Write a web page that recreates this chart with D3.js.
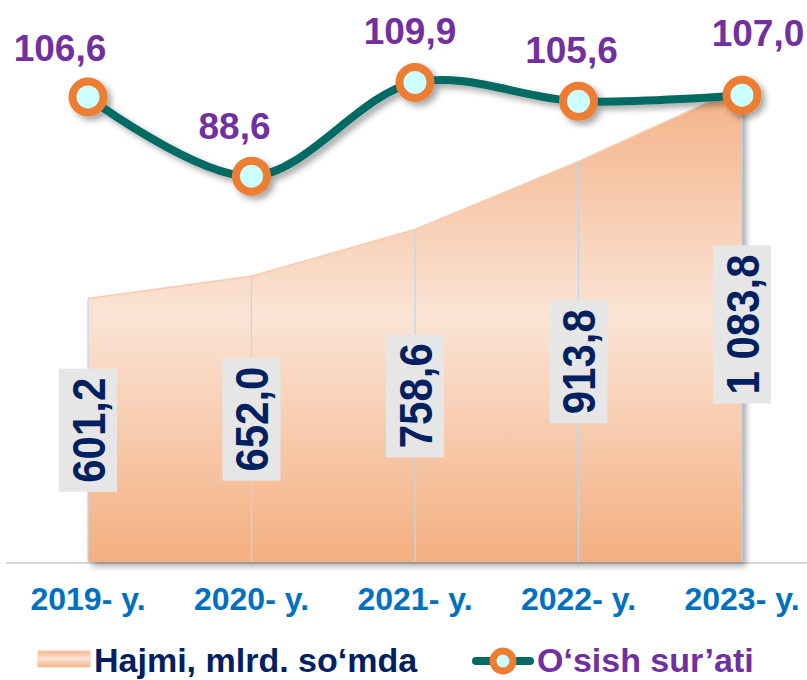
<!DOCTYPE html>
<html>
<head>
<meta charset="utf-8">
<script src="https://cdn.jsdelivr.net/npm/d3@7"></script>
<style>
  html, body { margin: 0; padding: 0; background: #fff; }
  svg { display: block; font-family: "Liberation Sans", Arial, sans-serif; }
</style>
</head>
<body>
<div id="chart"></div>
<script>
// data
const years = ["2019- y.", "2020- y.", "2021- y.", "2022- y.", "2023- y."];
const volume = [601.2, 652.0, 758.6, 913.8, 1083.8];
const volumeLabels = ["601,2", "652,0", "758,6", "913,8", "1 083,8"];
const growth = [106.6, 88.6, 109.9, 105.6, 107.0];
const growthLabels = ["106,6", "88,6", "109,9", "105,6", "107,0"];
const legendNames = ["Hajmi, mlrd. so‘mda", "O‘sish sur’ati"];

// layout tweaks for growth labels (shifted like the original)
const growthLabelDx = [-28, -17, -5, -7, 16];
const growthLabelDy = [-36, -37, -38, -38, -49];

const width = 807, height = 680;
const baseY = 562;

const svg = d3.select("#chart").append("svg")
  .attr("width", width)
  .attr("height", height);

const defs = svg.append("defs");

const grad = defs.append("linearGradient")
  .attr("id", "areaGrad")
  .attr("gradientUnits", "userSpaceOnUse")
  .attr("x1", 0).attr("y1", 88).attr("x2", 0).attr("y2", baseY);
grad.append("stop").attr("offset", "0%").attr("stop-color", "#F3B287");
grad.append("stop").attr("offset", "48%").attr("stop-color", "#FBE4D6");
grad.append("stop").attr("offset", "100%").attr("stop-color", "#F3AF80");

const legGrad = defs.append("linearGradient")
  .attr("id", "legGrad")
  .attr("x1", 0).attr("y1", 0).attr("x2", 0).attr("y2", 1);
legGrad.append("stop").attr("offset", "0%").attr("stop-color", "#F4B68C");
legGrad.append("stop").attr("offset", "50%").attr("stop-color", "#FCE4D6");
legGrad.append("stop").attr("offset", "100%").attr("stop-color", "#F4B183");

const shadow = defs.append("filter")
  .attr("id", "shadow")
  .attr("x", "-10%").attr("y", "-10%")
  .attr("width", "130%").attr("height", "130%");
shadow.append("feDropShadow")
  .attr("dx", 4).attr("dy", 4)
  .attr("stdDeviation", 3)
  .attr("flood-color", "#000")
  .attr("flood-opacity", 0.35);

const x = d3.scalePoint()
  .domain(years)
  .range([88, 742]);

const yVol = d3.scaleLinear()
  .domain([0, 1200])
  .range([baseY, 36]);

const yGrowth = d3.scaleLinear()
  .domain([0, 120])
  .range([566, 38]);

// baseline
svg.append("line")
  .attr("x1", 6).attr("x2", width)
  .attr("y1", baseY + 1).attr("y2", baseY + 1)
  .attr("stroke", "#D9D9D9")
  .attr("stroke-width", 2);

// area
const area = d3.area()
  .x((d, i) => x(years[i]))
  .y0(baseY)
  .y1(d => yVol(d));

svg.append("path")
  .datum(volume)
  .attr("d", area)
  .attr("fill", "url(#areaGrad)")
  .attr("filter", "url(#shadow)");

svg.append("path")
  .datum(volume)
  .attr("d", d3.line().x((d, i) => x(years[i])).y(d => yVol(d)))
  .attr("fill", "none")
  .attr("stroke", "#F8CBAD")
  .attr("stroke-width", 1.5);

// drop lines
svg.append("g")
  .selectAll("line")
  .data(volume)
  .join("line")
    .attr("x1", (d, i) => x(years[i]))
    .attr("x2", (d, i) => x(years[i]))
    .attr("y1", d => yVol(d))
    .attr("y2", baseY)
    .attr("stroke", "#BDD7EE")
    .attr("stroke-width", 1.2);

// volume labels (rotated, grey boxes)
const vl = svg.append("g")
  .selectAll("g")
  .data(volume)
  .join("g")
    .attr("transform", (d, i) => `translate(${x(years[i])},${(yVol(d) + baseY) / 2}) rotate(-90)`);

vl.append("text")
  .text((d, i) => volumeLabels[i])
  .attr("text-anchor", "middle")
  .attr("dy", "0.36em")
  .attr("transform", "scale(1,1.1)")
  .attr("font-size", 42)
  .attr("font-weight", "bold")
  .attr("fill", "#002060")
  .each(function() {
    const b = this.getBBox();
    d3.select(this.parentNode).insert("rect", "text")
      .attr("x", b.x - 9)
      .attr("y", -29)
      .attr("width", b.width + 18)
      .attr("height", 58)
      .attr("fill", "#E6E6E6");
  });

// growth line
const line = d3.line()
  .x((d, i) => x(years[i]))
  .y(d => yGrowth(d))
  .curve(d3.curveCatmullRom.alpha(0.5));

const lg = svg.append("g").attr("filter", "url(#shadow)");

lg.append("path")
  .datum(growth)
  .attr("d", line)
  .attr("fill", "none")
  .attr("stroke", "#006A63")
  .attr("stroke-width", 8);

lg.selectAll("circle")
  .data(growth)
  .join("circle")
    .attr("cx", (d, i) => x(years[i]))
    .attr("cy", d => yGrowth(d))
    .attr("r", 15.5)
    .attr("fill", "#CCFFFF")
    .attr("stroke", "#ED7D31")
    .attr("stroke-width", 8);

svg.append("g")
  .selectAll("text")
  .data(growth)
  .join("text")
    .attr("x", (d, i) => x(years[i]) + growthLabelDx[i])
    .attr("y", (d, i) => yGrowth(d) + growthLabelDy[i])
    .attr("text-anchor", "middle")
    .attr("font-size", 37)
    .attr("font-weight", "bold")
    .attr("fill", "#7030A0")
    .text((d, i) => growthLabels[i]);

// x axis labels
svg.append("g")
  .selectAll("text")
  .data(years)
  .join("text")
    .attr("x", d => x(d))
    .attr("y", 610)
    .attr("text-anchor", "middle")
    .attr("font-size", 32)
    .attr("font-weight", "bold")
    .attr("fill", "#0070C0")
    .text(d => d);

// legend
const leg = svg.append("g");
leg.append("rect")
  .attr("x", 38).attr("y", 651)
  .attr("width", 52).attr("height", 16)
  .attr("fill", "url(#legGrad)")
  .attr("stroke", "#F8CBAD")
  .attr("stroke-width", 1);
leg.append("text")
  .attr("x", 94).attr("y", 672)
  .attr("font-size", 34)
  .attr("font-weight", "bold")
  .attr("fill", "#002060")
  .text(legendNames[0]);

leg.append("line")
  .attr("x1", 476).attr("x2", 530)
  .attr("y1", 661).attr("y2", 661)
  .attr("stroke", "#006A63")
  .attr("stroke-width", 8)
  .attr("stroke-linecap", "round");
leg.append("circle")
  .attr("cx", 503).attr("cy", 661)
  .attr("r", 10)
  .attr("fill", "#CCFFFF")
  .attr("stroke", "#ED7D31")
  .attr("stroke-width", 7);
leg.append("text")
  .attr("x", 537).attr("y", 672)
  .attr("font-size", 34)
  .attr("font-weight", "bold")
  .attr("fill", "#7030A0")
  .text(legendNames[1]);
</script>
</body>
</html>
